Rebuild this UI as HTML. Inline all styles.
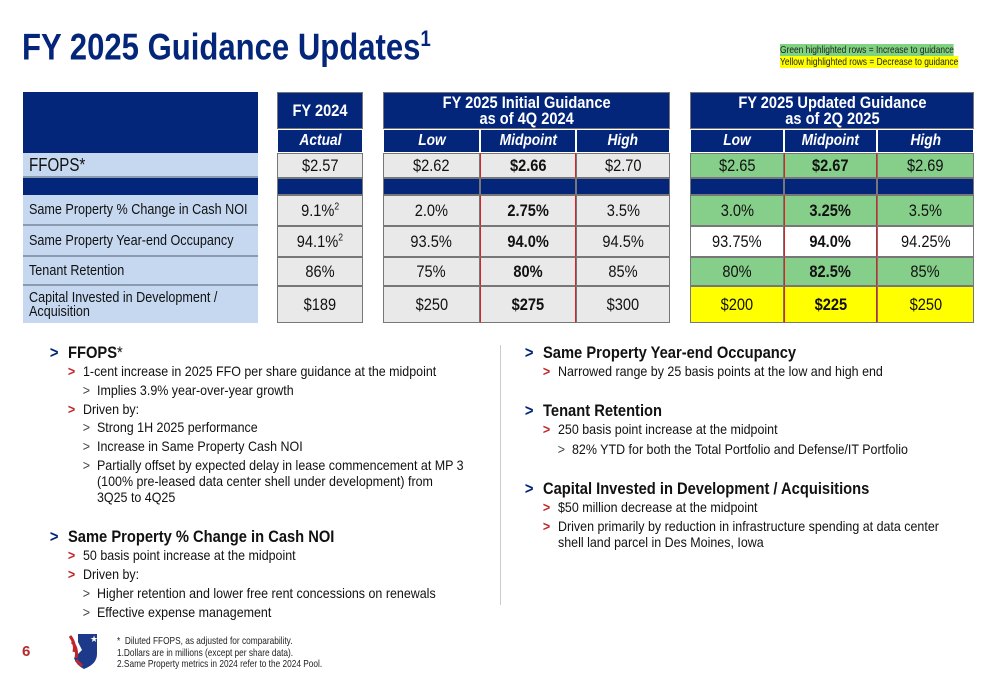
<!DOCTYPE html>
<html><head><meta charset="utf-8">
<style>
*{margin:0;padding:0;box-sizing:border-box}
body{width:1000px;height:685px;background:#fff;position:relative;overflow:hidden;font-family:"Liberation Sans",sans-serif;color:#111}
.a{position:absolute;white-space:nowrap}
.n{transform:scaleX(.84);transform-origin:0 0}
.c{position:absolute;display:flex;align-items:center;justify-content:center;font-size:17px;border:1px solid #777;}
.c span{display:inline-block;transform:scaleX(.86);white-space:nowrap}
.hd{background:#03257a;color:#fff;font-weight:bold;font-size:17px}
.sub{background:#03257a;color:#fff;font-weight:bold;font-style:italic;font-size:16px;border-color:#fff}
.lbl{position:absolute;left:23px;width:235px;background:#c5d8f0;font-size:15px;padding-left:6px;display:flex;align-items:center;border-bottom:2px solid #8a9bb0;line-height:14px}
.lbl span{display:inline-block;transform:scaleX(.84);transform-origin:0 50%;white-space:nowrap}
.g{background:#e9e9e9}.gr{background:#86cf8a}.y{background:#ffff00}.w{background:#fff}
.b{font-weight:bold}
.l1,.l2,.l3{position:absolute;white-space:nowrap;transform-origin:0 0}
.l1{font-size:17px;font-weight:bold;color:#111;transform:scaleX(.865)}
.l1:before{content:">";position:absolute;left:-21px;color:#03257a}
.l2{font-size:14px;line-height:16px;transform:scaleX(.89)}
.l2:before{content:">";position:absolute;left:-17px;color:#c0272d;font-weight:bold}
.l3{font-size:14px;line-height:16px;transform:scaleX(.89)}
.l3:before{content:">";position:absolute;left:-16px;color:#444}
</style></head><body>
<div class="a n" style="left:22px;top:26px;font-size:37px;font-weight:bold;color:#03257a">FY 2025 Guidance Updates<sup style="font-size:22px">1</sup></div>
<div class="a" style="left:780px;top:44px;font-size:10.5px;background:#7fd27f;color:#222;transform:scaleX(.8);transform-origin:0 0">Green highlighted rows = Increase to guidance</div>
<div class="a" style="left:780px;top:56px;font-size:10.5px;background:#ffff00;color:#222;transform:scaleX(.8);transform-origin:0 0">Yellow highlighted rows = Decrease to guidance</div>

<div>
<div class="a hd" style="left:23px;top:92px;width:235px;height:61px"></div>
<div class="lbl" style="top:153px;height:25px;font-size:18px"><span>FFOPS*</span></div>
<div class="a hd" style="left:23px;top:178px;width:235px;height:17px"></div>
<div class="lbl" style="top:195px;height:31px"><span>Same Property % Change in Cash NOI</span></div>
<div class="lbl" style="top:226px;height:31px"><span>Same Property Year-end Occupancy</span></div>
<div class="lbl" style="top:257px;height:29px"><span>Tenant Retention</span></div>
<div class="lbl" style="top:286px;height:37px;border-bottom:none"><span>Capital Invested in Development /<br>Acquisition</span></div>
</div>
<div id="tbl"></div>

<div style="position:absolute;left:500px;top:345px;width:1px;height:260px;background:#ccc"></div>

<div>
<div class="l1" style="left:68px;top:343px">FFOPS<span style="font-weight:normal">*</span></div>
<div class="l2" style="left:83px;top:363px">1-cent increase in 2025 FFO per share guidance at the midpoint</div>
<div class="l3" style="left:97px;top:382px">Implies 3.9% year-over-year growth</div>
<div class="l2" style="left:83px;top:401px">Driven by:</div>
<div class="l3" style="left:97px;top:419px">Strong 1H 2025 performance</div>
<div class="l3" style="left:97px;top:438px">Increase in Same Property Cash NOI</div>
<div class="l3" style="left:97px;top:457px">Partially offset by expected delay in lease commencement at MP 3<br>(100% pre-leased data center shell under development) from<br>3Q25 to 4Q25</div>
<div class="l1" style="left:68px;top:527px">Same Property % Change in Cash NOI</div>
<div class="l2" style="left:83px;top:547px">50 basis point increase at the midpoint</div>
<div class="l2" style="left:83px;top:566px">Driven by:</div>
<div class="l3" style="left:97px;top:585px">Higher retention and lower free rent concessions on renewals</div>
<div class="l3" style="left:97px;top:604px">Effective expense management</div>
</div>
<div>
<div class="l1" style="left:543px;top:343px">Same Property Year-end Occupancy</div>
<div class="l2" style="left:558px;top:363px">Narrowed range by 25 basis points at the low and high end</div>
<div class="l1" style="left:543px;top:401px">Tenant Retention</div>
<div class="l2" style="left:558px;top:421px">250 basis point increase at the midpoint</div>
<div class="l3" style="left:572px;top:441px">82% YTD for both the Total Portfolio and Defense/IT Portfolio</div>
<div class="l1" style="left:543px;top:479px">Capital Invested in Development / Acquisitions</div>
<div class="l2" style="left:558px;top:499px">$50 million decrease at the midpoint</div>
<div class="l2" style="left:558px;top:518px">Driven primarily by reduction in infrastructure spending at data center<br>shell land parcel in Des Moines, Iowa</div>
</div>

<div class="a" style="left:22px;top:643px;font-size:15px;font-weight:bold;color:#b52b2b">6</div>
<svg class="a" style="left:68px;top:632px" width="30" height="38" viewBox="0 0 30 38">
<path d="M10 2 H29 V22 Q29 32 16 37 Q8 33 6 26 L14 18 L10 10 Z" fill="#1d3a8a"/>
<path d="M2 4 Q8 12 6 20 M4 10 Q10 16 8 26 M8 28 L14 34" stroke="#c0272d" stroke-width="3" fill="none"/>
<text x="22" y="10" fill="#fff" font-size="9">★</text>
</svg>
<div class="a" style="left:117px;top:636px;font-size:10.5px;line-height:11.5px;color:#222;transform:scaleX(.79);transform-origin:0 0">*&nbsp; Diluted FFOPS, as adjusted for comparability.<br>1.Dollars are in millions (except per share data).<br>2.Same Property metrics in 2024 refer to the 2024 Pool.</div>

<script>
const rowKeys=["ffops","noi","occupancy","retention","capital"];
const fy2024=["$2.57","9.1%²","94.1%²","86%","$189"];
const initLow=["$2.62","2.0%","93.5%","75%","$250"];
const initMid=["$2.66","2.75%","94.0%","80%","$275"];
const initHigh=["$2.70","3.5%","94.5%","85%","$300"];
const updLow=["$2.65","3.0%","93.75%","80%","$200"];
const updMid=["$2.67","3.25%","94.0%","82.5%","$225"];
const updHigh=["$2.69","3.5%","94.25%","85%","$250"];
const updClass=["gr","gr","w","gr","y"];
const rowsY=[[153,25],[195,31],[226,31],[257,29],[286,37]];
const t=document.getElementById('tbl');
function cell(x,y,w,h,cls,txt,name,extra){
 const d=document.createElement('div');
 d.className='c '+cls;
 d.style.cssText=`left:${x}px;top:${y}px;width:${w}px;height:${h}px;`+(extra||'');
 d.innerHTML=txt?'<span>'+txt.replace(/²/,'<sup style="font-size:10px">2</sup>')+'</span>':'';
 
 
 t.appendChild(d);
}
cell(277,92,86,37,'hd','FY 2024','header-fy2024');
cell(277,129,86,24,'sub','Actual','subheader-actual');
cell(383,92,287,37,'hd','<div style="text-align:center;line-height:16px">FY 2025 Initial Guidance<br>as of 4Q 2024</div>','header-initial');
cell(690,92,284,37,'hd','<div style="text-align:center;line-height:16px">FY 2025 Updated Guidance<br>as of 2Q 2025</div>','header-updated');
const cols=[[383,97,'Low'],[480,96,'Midpoint'],[576,94,'High'],[690,94,'Low'],[784,93,'Midpoint'],[877,97,'High']];
cols.forEach((c,i)=>cell(c[0],129,c[1],24,'sub',c[2],'subheader-'+c[2].toLowerCase()));
[277,383,480,576,690,784,877].forEach((x,i)=>{const w=[86,97,96,94,94,93,97][i];cell(x,178,w,17,'hd','','spacer-cell');});
const data=[initLow,initMid,initHigh,updLow,updMid,updHigh];
rowsY.forEach((r,ri)=>{
 cell(277,r[0],86,r[1],'g',fy2024[ri],'fy2024-'+rowKeys[ri]);
 data.forEach((arr,ci)=>{
  const c=cols[ci];const mid=ci%3===1;
  const cls=(ci<3?'g':updClass[ri])+(mid?' b':'');
  cell(c[0],r[0],c[1],r[1],cls,arr[ri],(ci<3?'initial-':'updated-')+c[2].toLowerCase()+'-'+rowKeys[ri],mid?'border-left:1px solid #d22;border-right:1px solid #d22;':'');
 });
});
</script>
</body></html>
